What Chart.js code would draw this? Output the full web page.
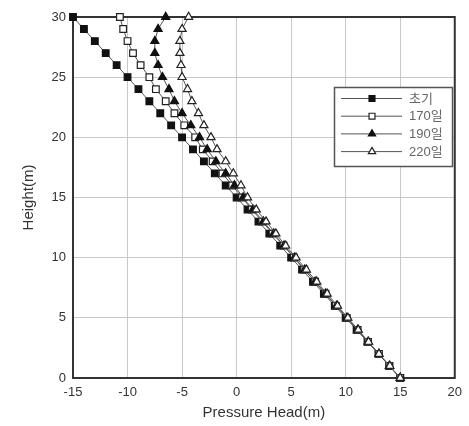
<!DOCTYPE html>
<html>
<head>
<meta charset="utf-8">
<script src="https://cdn.jsdelivr.net/npm/chart.js@4/dist/chart.umd.min.js"></script>
<style>
  html, body { margin: 0; padding: 0; background: #fff; }
  #wrap { width: 469px; height: 426px; }
</style>
</head>
<body>
<div id="wrap"><canvas id="grafico" width="469" height="426"></canvas></div>
<script>
// alturas (m), de 0 a 30
const alturas = [0, 1, 2, 3, 4, 5, 6, 7, 8, 9, 10, 11, 12, 13, 14, 15, 16, 17, 18, 19, 20, 21, 22, 23, 24, 25, 26, 27, 28, 29, 30];

// pressure head (m) para cada serie, na ordem das alturas
const inicial = [15, 14, 13, 12, 11, 10, 9, 8, 7, 6, 5, 4, 3, 2, 1, 0, -1, -2, -3, -4, -5, -6, -7, -8, -9, -10, -11, -12, -13, -14, -15];
const dia170 = [15, 14.0, 13.05, 12.05, 11.1, 10.1, 9.1, 8.15, 7.2, 6.2, 5.25, 4.3, 3.3, 2.35, 1.4, 0.5, -0.4, -1.3, -2.2, -3.1, -3.8, -4.8, -5.7, -6.5, -7.4, -8.0, -8.8, -9.5, -10.0, -10.4, -10.7];
const dia190 = [15, 14.0, 13.05, 12.05, 11.1, 10.1, 9.15, 8.15, 7.2, 6.25, 5.3, 4.35, 3.4, 2.45, 1.5, 0.6, -0.2, -1.0, -1.9, -2.7, -3.4, -4.2, -5.0, -5.7, -6.2, -6.8, -7.2, -7.5, -7.5, -7.2, -6.5];
const dia220 = [15, 14.05, 13.05, 12.1, 11.15, 10.2, 9.25, 8.3, 7.35, 6.4, 5.45, 4.5, 3.6, 2.7, 1.8, 1.0, 0.4, -0.3, -1.0, -1.8, -2.35, -3.0, -3.5, -4.1, -4.5, -5.0, -5.1, -5.2, -5.2, -5.0, -4.4];

const rotulos = ['초기', '170일', '190일', '220일'];
const xTicks = [-15, -10, -5, 0, 5, 10, 15, 20];
const yTicks = [0, 5, 10, 15, 20, 25, 30];

const fonte = "Arial, 'Liberation Sans', 'Noto Sans CJK KR', sans-serif";

const estilos = [
  { pointStyle: 'rect', radius: 4.7, fill: '#111', stroke: '#111' },
  { pointStyle: 'rect', radius: 4.7, fill: '#fff', stroke: '#222' },
  { pointStyle: 'triangle', radius: 4.7, fill: '#111', stroke: '#111' },
  { pointStyle: 'triangle', radius: 4.7, fill: '#fff', stroke: '#222' }
];

const series = [inicial, dia170, dia190, dia220];

const datasets = series.map((valores, i) => ({
  label: rotulos[i],
  data: alturas.map((h, j) => ({ x: valores[j], y: h })),
  showLine: true,
  clip: false,
  borderColor: '#555',
  borderWidth: 1,
  pointStyle: estilos[i].pointStyle,
  pointRadius: estilos[i].radius,
  pointBackgroundColor: estilos[i].fill,
  pointBorderColor: estilos[i].stroke,
  pointBorderWidth: 1.2,
  order: 4 - i
}));

// moldura (antes dos pontos) + legenda (por cima)
const moldura = {
  id: 'moldura',
  beforeDatasetsDraw(chart) {
    const { ctx, chartArea: a } = chart;
    ctx.save();
    ctx.strokeStyle = '#333';
    ctx.lineWidth = 2;
    ctx.strokeRect(a.left, a.top, a.right - a.left, a.bottom - a.top);
    ctx.restore();
  },
  afterDatasetsDraw(chart) {
    const { ctx } = chart;
    ctx.save();
    const bx = 334, by = 87, bw = 118, bh = 79;
    ctx.fillStyle = '#fff';
    ctx.fillRect(bx, by, bw, bh);
    ctx.strokeStyle = '#555';
    ctx.lineWidth = 1.5;
    ctx.strokeRect(bx + 0.5, by + 0.5, bw, bh);

    rotulos.forEach((txt, i) => {
      const y = 98.5 + i * 17.7;
      ctx.strokeStyle = '#555';
      ctx.lineWidth = 1;
      ctx.beginPath();
      ctx.moveTo(341, y);
      ctx.lineTo(402, y);
      ctx.stroke();

      ctx.fillStyle = estilos[i].fill;
      ctx.strokeStyle = estilos[i].stroke;
      ctx.lineWidth = 1.2;
      Chart.helpers.drawPoint(ctx, {
        pointStyle: estilos[i].pointStyle,
        radius: 4.2,
        borderWidth: 1.2,
        rotation: 0
      }, 372, y);

      ctx.fillStyle = '#666';
      ctx.font = '13px ' + fonte;
      ctx.textAlign = 'left';
      ctx.textBaseline = 'middle';
      ctx.fillText(txt, 409, y + 0.5);
    });
    ctx.restore();
  }
};

new Chart(document.getElementById('grafico').getContext('2d'), {
  type: 'scatter',
  data: { datasets },
  options: {
    responsive: false,
    animation: false,
    layout: { padding: { top: 17, right: 2, left: 0, bottom: 0 } },
    plugins: {
      legend: { display: false },
      tooltip: { enabled: false }
    },
    scales: {
      x: {
        type: 'linear',
        min: -15,
        max: 20,
        afterBuildTicks: s => { s.ticks = xTicks.map(v => ({ value: v })); },
        afterFit: s => { s.height = 48; },
        grid: { color: '#c8c8c8', lineWidth: 1, drawTicks: false },
        border: { display: false },
        ticks: { color: '#333', font: { family: fonte, size: 13 }, padding: 7, maxRotation: 0 },
        title: { display: true, text: 'Pressure Head(m)', color: '#333', font: { family: fonte, size: 15 }, padding: { top: 1 } }
      },
      y: {
        type: 'linear',
        min: 0,
        max: 30,
        afterBuildTicks: s => { s.ticks = yTicks.map(v => ({ value: v })); },
        afterFit: s => { s.width = 73; },
        grid: { color: '#c8c8c8', lineWidth: 1, drawTicks: false },
        border: { display: false },
        ticks: { color: '#333', font: { family: fonte, size: 13 }, padding: 7 },
        title: { display: true, text: 'Height(m)', color: '#333', font: { family: fonte, size: 15 }, padding: { top: 20, bottom: 0 } }
      }
    }
  },
  plugins: [moldura]
});
</script>
</body>
</html>
